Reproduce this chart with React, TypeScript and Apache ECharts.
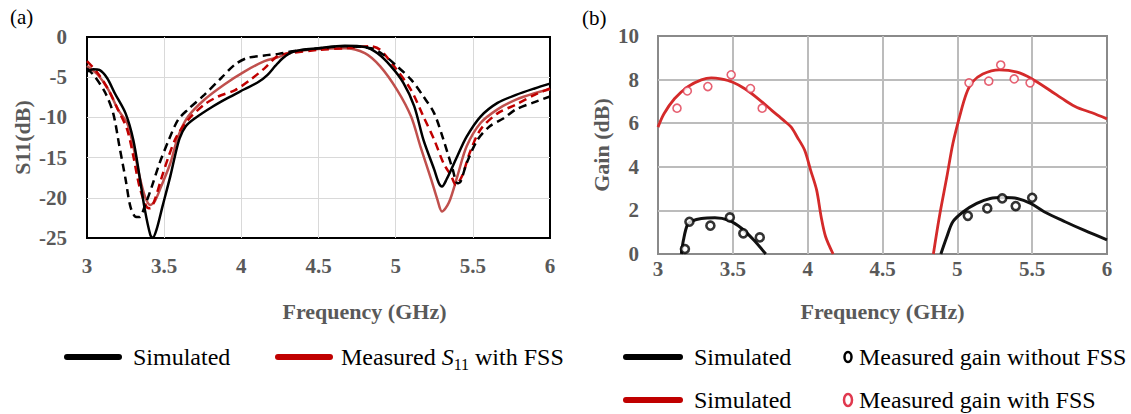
import React, { useEffect, useRef } from 'react';
import * as echarts from 'echarts';

const FONT = '"Liberation Serif", "Times New Roman", serif';
const GREY = '#595959';

// ---------- Panel (a): S11 (dB) vs frequency (GHz) ----------
const xTicksA = [3, 3.5, 4, 4.5, 5, 5.5, 6];
const s11SimSolid: number[][] = [
  [3.0, -4.3], [3.04, -4.0], [3.08, -4.1], [3.13, -5.1], [3.18, -7.0], [3.25, -9.5], [3.3, -12.8],
  [3.34, -17.3], [3.375, -21.5], [3.41, -24.6], [3.425, -25], [3.45, -24], [3.49, -21], [3.54, -17.3],
  [3.57, -14.8], [3.6, -12.6], [3.64, -11.1], [3.7, -10.1], [3.81, -8.7], [3.91, -7.6], [4.02, -6.5],
  [4.11, -5.6], [4.17, -4.7], [4.22, -3.6], [4.27, -2.6], [4.34, -1.8], [4.5, -1.4], [4.67, -1.1],
  [4.8, -1.25], [4.88, -2.0], [4.97, -3.65], [5.05, -5.7], [5.12, -8.6], [5.18, -12.8], [5.25, -16.5],
  [5.28, -18.2], [5.3, -18.6], [5.33, -17.7], [5.4, -14.8], [5.46, -12.4], [5.55, -9.9], [5.66, -8.2],
  [5.78, -7.2], [5.9, -6.4], [6.0, -5.8],
];
const s11SimDashed: number[][] = [
  [3.0, -3.9], [3.05, -4.9], [3.12, -7.0], [3.17, -9.5], [3.21, -13.6], [3.25, -17.7], [3.28, -21],
  [3.31, -22.3], [3.34, -22.4], [3.375, -21], [3.42, -18.6], [3.47, -15.7], [3.53, -12.8], [3.59, -10.3],
  [3.655, -9.0], [3.76, -7.2], [3.87, -5.1], [3.96, -3.4], [4.04, -2.6], [4.15, -2.3], [4.24, -2.1],
  [4.32, -1.8], [4.5, -1.4], [4.67, -1.15], [4.84, -1.4], [4.92, -2.2], [5.01, -3.65], [5.1, -5.3],
  [5.18, -7.4], [5.25, -9.5], [5.31, -12.8], [5.37, -16.5], [5.4, -18.2], [5.42, -18], [5.46, -15.7],
  [5.53, -12.8], [5.61, -11.1], [5.7, -10.1], [5.78, -9.0], [5.9, -8.1], [6.0, -7.4],
];
const s11MeasSolid: number[][] = [
  [3.0, -3.6], [3.07, -4.7], [3.14, -6.6], [3.2, -9.0], [3.26, -10.7], [3.3, -13.6], [3.34, -17.3],
  [3.375, -19.8], [3.41, -20.9], [3.44, -20.4], [3.48, -18.6], [3.54, -15.7], [3.59, -12.4], [3.655, -9.9],
  [3.76, -7.8], [3.89, -5.9], [4.02, -4.3], [4.15, -3.0], [4.24, -2.5], [4.32, -1.9], [4.5, -1.5],
  [4.67, -1.4], [4.8, -2.0], [4.9, -3.65], [5.01, -6.6], [5.1, -9.9], [5.16, -13.6], [5.23, -17.7],
  [5.27, -20.2], [5.3, -21.7], [5.345, -20.6], [5.4, -17.3], [5.46, -13.6], [5.55, -10.7], [5.66, -9.0],
  [5.78, -7.8], [5.9, -7.0], [6.0, -6.5],
];
const s11MeasDashed: number[][] = [
  [3.0, -3.0], [3.07, -4.5], [3.14, -6.6], [3.2, -9.0], [3.26, -11.5], [3.3, -14.8], [3.34, -18.6],
  [3.385, -21.1], [3.41, -21.3], [3.44, -20.2], [3.48, -17.7], [3.53, -14.8], [3.58, -12.4], [3.655, -10.3],
  [3.76, -8.4], [3.85, -7.4], [3.96, -6.6], [4.06, -5.3], [4.15, -3.9], [4.24, -2.3], [4.32, -2.0],
  [4.5, -1.6], [4.67, -1.4], [4.84, -1.15], [4.9, -1.6], [4.99, -3.65], [5.1, -6.6], [5.18, -9.9],
  [5.25, -12.8], [5.31, -15.7], [5.36, -17.3], [5.39, -18.4], [5.43, -17.3], [5.48, -14.4], [5.55, -11.5],
  [5.66, -9.5], [5.78, -8.4], [5.9, -7.2], [6.0, -6.4],
];

// ---------- Panel (b): Gain (dB) vs frequency (GHz) ----------
const gainFssSimLow: number[][] = [
  [3.0, 5.82], [3.04, 6.43], [3.11, 7.12], [3.2, 7.68], [3.29, 7.99], [3.356, 8.08], [3.42, 8.03],
  [3.5, 7.88], [3.58, 7.58], [3.67, 7.12], [3.76, 6.59], [3.84, 6.13], [3.89, 5.82], [3.93, 5.37],
  [3.98, 4.76], [4.02, 3.84], [4.06, 2.93], [4.09, 1.71], [4.12, 0.79], [4.17, 0],
];
const gainFssSimHigh: number[][] = [
  [4.84, 0], [4.88, 1.71], [4.93, 3.54], [4.97, 5.06], [5.02, 6.43], [5.06, 7.35], [5.1, 7.88],
  [5.17, 8.26], [5.28, 8.45], [5.4, 8.34], [5.5, 8.03], [5.62, 7.5], [5.72, 7.04], [5.8, 6.72],
  [5.9, 6.48], [6.0, 6.2],
];
const gainNoFssSimLow: number[][] = [
  [3.156, 0], [3.17, 0.64], [3.196, 1.33], [3.23, 1.52], [3.29, 1.63], [3.38, 1.66], [3.47, 1.55],
  [3.56, 1.17], [3.64, 0.64], [3.72, 0],
];
const gainNoFssSimHigh: number[][] = [
  [4.89, 0], [4.93, 0.79], [4.97, 1.48], [5.04, 1.94], [5.13, 2.32], [5.22, 2.55], [5.31, 2.59],
  [5.4, 2.55], [5.49, 2.32], [5.58, 1.94], [5.72, 1.48], [5.85, 1.08], [6.0, 0.65],
];
const gainFssMeasured: number[][] = [
  [3.127, 6.69], [3.196, 7.48], [3.333, 7.68], [3.489, 8.22], [3.618, 7.59], [3.696, 6.69],
  [5.078, 7.85], [5.21, 7.93], [5.29, 8.67], [5.38, 8.03], [5.486, 7.85],
];
const gainNoFssMeasured: number[][] = [
  [3.18, 0.23], [3.21, 1.48], [3.35, 1.3], [3.48, 1.68], [3.57, 0.95], [3.68, 0.76],
  [5.07, 1.75], [5.2, 2.09], [5.3, 2.55], [5.39, 2.2], [5.5, 2.58],
];

const legendA = ['Simulated', 'Measured S11 with FSS'];
const legendB = ['Simulated', 'Measured gain without FSS', 'Simulated', 'Measured gain with FSS'];

const tickLabel = { color: GREY, fontFamily: FONT, fontWeight: 'bold' as const, fontSize: 21 };
const axisName = { color: GREY, fontFamily: FONT, fontWeight: 'bold' as const, fontSize: 22 };

function lineSeries(name: string, data: number[][], idx: number, color: string, dashed: boolean, width = 2.5) {
  return {
    name, type: 'line', xAxisIndex: idx, yAxisIndex: idx, data, smooth: 0.3,
    showSymbol: false, symbol: 'none',
    lineStyle: { color, width, type: dashed ? [8, 5] : 'solid', cap: 'butt' },
    emphasis: { disabled: true }, z: 3,
  };
}

function legendText(x: number, y: number, text: string) {
  return {
    type: 'text', x, y,
    style: { text, fontFamily: FONT, fontSize: 24, fill: '#000', textVerticalAlign: 'middle', verticalAlign: 'middle' },
  };
}
function legendLine(x1: number, x2: number, y: number, color: string) {
  return { type: 'line', shape: { x1, y1: y, x2, y2: y }, style: { stroke: color, lineWidth: 6, lineCap: 'round' } };
}

export default function App() {
  const ref = useRef<HTMLDivElement>(null);
  useEffect(() => {
    document.body.style.margin = '0';
    const chart = echarts.init(ref.current!, null, { renderer: 'svg' });
    const option: any = {
      animation: false,
      backgroundColor: '#fff',
      grid: [
        { left: 87, top: 37, width: 463, height: 201, show: true, borderColor: '#000', borderWidth: 2, backgroundColor: 'transparent' },
        { left: 658, top: 36, width: 449, height: 218, show: true, borderColor: '#8a8a8a', borderWidth: 2, backgroundColor: 'transparent' },
      ],
      xAxis: [
        {
          gridIndex: 0, type: 'value', min: xTicksA[0], max: xTicksA[xTicksA.length - 1], interval: 0.5,
          axisLine: { show: false }, axisTick: { show: false },
          axisLabel: { ...tickLabel, margin: 17 },
          splitLine: { show: true, showMinLine: false, showMaxLine: false, lineStyle: { color: '#d9d9d9', width: 1 } },
          name: 'Frequency (GHz)', nameLocation: 'middle', nameGap: 62,
          nameTextStyle: { ...axisName, padding: [0, 0, 0, 92] },
        },
        {
          gridIndex: 1, type: 'value', min: 3, max: 6, interval: 0.5,
          axisLine: { show: false }, axisTick: { show: false },
          axisLabel: { ...tickLabel, margin: 4 },
          splitLine: { show: true, showMinLine: false, showMaxLine: false, lineStyle: { color: '#bcbcbc', width: 2 } },
          name: 'Frequency (GHz)', nameLocation: 'middle', nameGap: 46,
          nameTextStyle: { ...axisName },
        },
      ],
      yAxis: [
        {
          gridIndex: 0, type: 'value', min: -25, max: 0, interval: 5,
          axisLine: { show: false }, axisTick: { show: false },
          axisLabel: { ...tickLabel, margin: 20 },
          splitLine: { show: true, showMinLine: false, showMaxLine: false, lineStyle: { color: '#d9d9d9', width: 1 } },
          name: 'S11(dB)', nameLocation: 'middle', nameGap: 54, nameTextStyle: axisName,
        },
        {
          gridIndex: 1, type: 'value', min: 0, max: 10, interval: 2,
          axisLine: { show: false }, axisTick: { show: false },
          axisLabel: { ...tickLabel, margin: 19 },
          splitLine: { show: true, showMinLine: false, showMaxLine: false, lineStyle: { color: '#bcbcbc', width: 2 } },
          name: 'Gain (dB)', nameLocation: 'middle', nameGap: 46, nameTextStyle: axisName,
        },
      ],
      series: [
        lineSeries('Measured (solid)', s11MeasSolid, 0, '#c0504d', false),
        lineSeries('Measured (dashed)', s11MeasDashed, 0, '#c00000', true),
        lineSeries('Simulated (dashed)', s11SimDashed, 0, '#000000', true),
        lineSeries('Simulated', s11SimSolid, 0, '#000000', false),
        lineSeries('Simulated FSS low', gainFssSimLow, 1, '#d42a2a', false, 2.8),
        lineSeries('Simulated FSS high', gainFssSimHigh, 1, '#d42a2a', false, 2.8),
        lineSeries('Simulated no FSS low', gainNoFssSimLow, 1, '#111111', false, 3),
        lineSeries('Simulated no FSS high', gainNoFssSimHigh, 1, '#111111', false, 3),
        {
          name: 'Measured gain with FSS', type: 'scatter', xAxisIndex: 1, yAxisIndex: 1, data: gainFssMeasured,
          symbol: 'circle', symbolSize: 8, z: 5,
          itemStyle: { color: '#ffffff', borderColor: '#e0394f', borderWidth: 1.6 },
        },
        {
          name: 'Measured gain without FSS', type: 'scatter', xAxisIndex: 1, yAxisIndex: 1, data: gainNoFssMeasured,
          symbol: 'circle', symbolSize: 8, z: 5,
          itemStyle: { color: '#ffffff', borderColor: '#000000', borderWidth: 2.6 },
        },
      ],
      graphic: [
        { type: 'text', x: 10, y: 17, style: { text: '(a)', fontFamily: FONT, fontSize: 21, fill: '#000', textVerticalAlign: 'middle', verticalAlign: 'middle' } },
        { type: 'text', x: 582, y: 18, style: { text: '(b)', fontFamily: FONT, fontSize: 21, fill: '#000', textVerticalAlign: 'middle', verticalAlign: 'middle' } },
        legendLine(67, 119, 357, '#000'),
        legendText(133, 357, legendA[0]),
        legendLine(278, 330, 357, '#c00000'),
        {
          type: 'text', x: 341, y: 357,
          style: {
            text: '{n|Measured }{i|S}{s|11}{n| with FSS}',
            fontFamily: FONT, fontSize: 24, fill: '#000', textVerticalAlign: 'middle', verticalAlign: 'middle',
            rich: {
              n: { fontFamily: FONT, fontSize: 24, fill: '#000', color: '#000' },
              i: { fontFamily: FONT, fontSize: 24, fontStyle: 'italic', fill: '#000', color: '#000' },
              s: { fontFamily: FONT, fontSize: 16, fill: '#000', color: '#000', padding: [14, 0, 0, 0] },
            },
          },
        },
        legendLine(626, 680, 357, '#000'),
        legendText(694, 357, legendB[0]),
        { type: 'ellipse', shape: { cx: 848, cy: 357, rx: 3.5, ry: 5 }, style: { fill: '#fff', stroke: '#000', lineWidth: 2.5 } },
        legendText(859, 357, legendB[1]),
        legendLine(626, 680, 400, '#c00000'),
        legendText(694, 400, legendB[2]),
        { type: 'ellipse', shape: { cx: 848, cy: 400, rx: 4, ry: 6 }, style: { fill: '#fff', stroke: '#e0394f', lineWidth: 2.5 } },
        legendText(859, 400, legendB[3]),
      ],
    };
    chart.setOption(option);
    return () => chart.dispose();
  }, []);
  return <div ref={ref} style={{ width: 1131, height: 414 }} />;
}
